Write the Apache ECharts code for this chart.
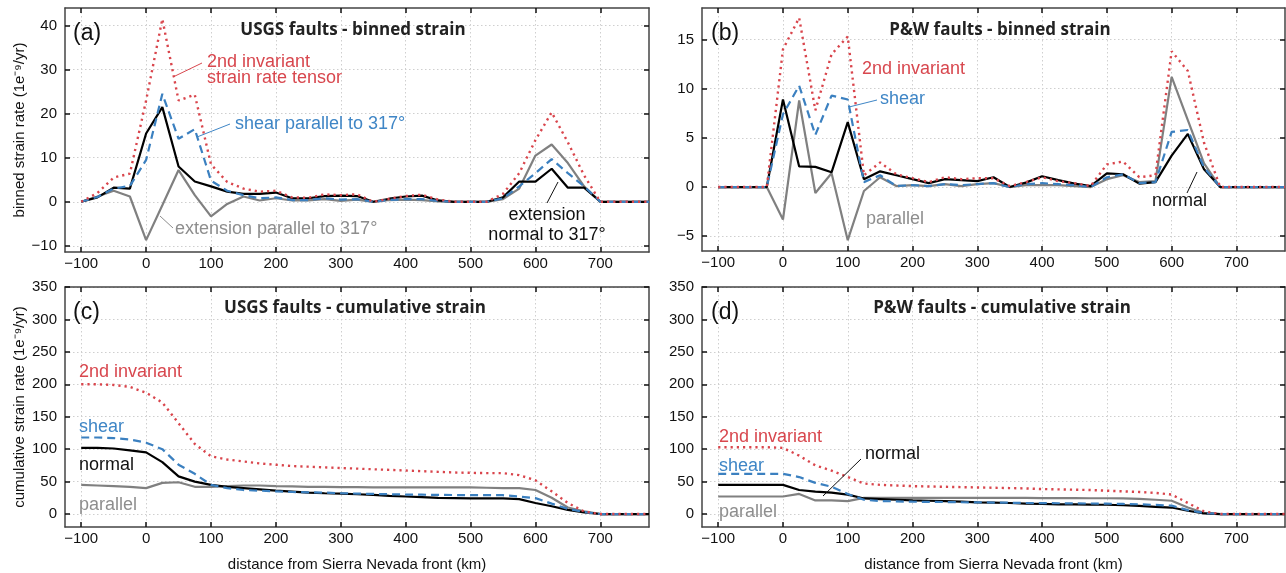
<!DOCTYPE html>
<html><head><meta charset="utf-8">
<script src="https://cdn.jsdelivr.net/npm/echarts@6/dist/echarts.min.js"></script>
<style>html,body{margin:0;padding:0;background:#fff}#c{width:1286px;height:573px}</style>
</head><body><div id="c"></div>
<script>
// ---------- data ----------
const dist = [-100,-75,-50,-25,0,25,50,75,100,125,150,175,200,225,250,275,300,325,350,375,400,425,450,475,500,525,550,575,600,625,650,675,700,725,750,775];

// (a) USGS binned
const aNormal   = [0,1,3.2,3,15.5,21.5,8,4.6,3.5,2.3,1.8,1.8,2.1,0.8,0.8,1.3,1.4,1.3,0,0.7,1.2,1.4,0.3,0,0,0,1,4.6,4.6,7.5,3.2,3.2,0,0,0,0];
const aParallel = [0,1.2,2.5,1.2,-8.7,-0.8,7.2,1.5,-3.3,-0.5,1.2,0.3,0.8,0.3,0.3,0.6,0.2,0.5,0,0.4,0.5,0.4,0.1,0,0,0,0.6,3,10.5,13,8.8,3.5,0,0,0,0];
const aShear    = [0,1.1,3,3.6,9.5,24.5,14.3,16.5,4.8,2.5,1.5,0.8,1.0,0.4,0.4,0.8,0.5,0.6,0,0.4,0.6,0.6,0.2,0,0,0,0.8,3.5,6.5,9.7,6.5,3.5,0,0,0,0];
const aInv      = [0,2,5.5,6.4,23,41.5,23,24.3,8.5,4.5,3,2.3,2.5,1,0.9,1.7,1.5,1.7,0,0.7,1.3,1.6,0.5,0,0,0,1.8,6.5,14,20.3,13.5,6,0,0,0,0];

// (b) P&W binned
const bNormal   = [0,0,0,0,8.9,2.1,2.05,1.5,6.6,0.8,1.6,1.2,0.8,0.4,0.8,0.7,0.6,1.0,0,0.45,1.1,0.7,0.35,0.1,1.4,1.3,0.35,0.5,3.2,5.4,1.8,0,0,0,0,0];
const bParallel = [0,0,0,0,-3.3,8.8,-0.6,1.4,-5.4,-0.4,1.0,0.1,0.2,0.1,0.3,0.1,0.3,0.4,0,0.2,0.2,0.2,0.1,0,0.8,1.2,0.5,0.6,11.2,6.8,2.4,0,0,0,0,0];
const bShear    = [0,0,0,0,7.4,10.3,5.3,9.3,8.9,0.5,1.2,0.1,0.2,0.1,0.3,0.2,0.3,0.4,0,0.3,0.4,0.3,0.2,0,1.0,1.3,0.4,0.5,5.6,5.8,2.0,0,0,0,0,0];
const bInv      = [0,0,0,0,14,17.2,7.8,13.5,15.3,1.2,2.5,1.3,0.9,0.5,1.0,0.8,0.9,0.9,0.1,0.5,1.0,0.6,0.4,0.1,2.3,2.6,1.0,1.2,13.8,11.8,4.5,0,0,0,0,0];

// (c) USGS cumulative
const cInv      = [200,200,199,196,187,172,140,108,89,84,81,78,76,74,73,72,71,70,69,68,67,66,65,64,63.5,63,63,60,52,35,17,4,0,0,0,0];
const cShear    = [118,118,117,115,110,100,76,62,45,40,37,36,35,34,33.5,33,32,31.5,31,30.5,30,29.8,29.5,29.3,29,29,29,27,24.5,16,8,3,0,0,0,0];
const cNormal   = [102,102,101,98,95,80,58,50,45,42,40,38,36,34.5,33,32,31.5,30.5,29.5,28,27,26,25,24.5,24,24,24,23,17,12,6.5,2.5,0,0,0,0];
const cParallel = [45,44,43,42,40,48,49,42,42,43,44,44,43,42.5,42,42,41.5,41.5,41,41,41,41,41,41,41,40.5,40,40,37,25,10,4,0,0,0,0];

// (d) P&W cumulative
const dInv      = [103,103,103,103,102,90,75,67,57,47,45,44,43,42.5,42,41.5,41,40.5,40,39.5,38.5,38,37.5,37,36,35,34,32.5,30,17,4,0,0,0,0,0];
const dShear    = [62,62,62,62,62,57,48,42,31,22,20,19.5,19,18.8,18.5,18.2,18,17.7,17.4,17,16.8,16.6,16.4,16.2,16,15.5,15,14,13,6,1.5,0,0,0,0,0];
const dNormal   = [45,45,45,45,45,37,34.5,33,30,24,23,22,21,20.5,20,19,18,17.5,17,16,15.5,15,14.8,14.5,14.3,13.5,12.5,11,10,5,1,0,0,0,0,0];
const dParallel = [27,27,27,27,27,31,21,21,20,25,25,25,25,25,25,25,25,25,25,24.8,24.5,24.5,24.5,24.3,24.3,24,23.5,22,20.5,10,2,0,0,0,0,0];

const xTicks = [-100,0,100,200,300,400,500,600,700];
const yTicksA = [-10,0,10,20,30,40];
const yTicksB = [-5,0,5,10,15];
const yTicksC = [0,50,100,150,200,250,300,350];

// ---------- styling ----------
const FONT = "'Liberation Sans', Arial, Helvetica, sans-serif";
const RED = '#d9454c', BLUE = '#3b80c0', GRAY = '#808080', BLACK = '#000000';
const RED_T = '#d8474e', BLUE_T = '#3f86c6', GRAY_T = '#8e8e8e';
const FRAME = '#444';

const grids = [
  {left: 65,  top: 8,   width: 584, height: 244},
  {left: 702, top: 8,   width: 583, height: 243},
  {left: 65,  top: 287, width: 584, height: 244},
  {left: 702, top: 287, width: 583, height: 244}
];
const yRanges = [[-11.4, 44], [-6.5, 18.2], [-20, 350], [-20, 350]];
const yTicksList = [yTicksA, yTicksB, yTicksC, yTicksC];
const yNames = ['binned strain rate (1e⁻⁹/yr)', '', 'cumulative strain rate (1e⁻⁹/yr)', ''];
const xNames = ['', '', 'distance from Sierra Nevada front (km)', 'distance from Sierra Nevada front (km)'];

const fmt = v => String(v).replace('-', '\u2212');

const xAxis = [], yAxis = [], series = [];
grids.forEach((g, i) => {
  // bottom x
  xAxis.push({
    type: 'value', gridIndex: i, min: -125, max: 775, position: 'bottom',
    name: xNames[i], nameLocation: 'middle', nameGap: 30,
    nameTextStyle: {fontFamily: FONT, fontSize: 15, color: '#111'},
    axisLine: {show: true, onZero: false, lineStyle: {color: FRAME, width: 1.5}},
    axisTick: {show: true, inside: true, length: 5, customValues: xTicks, lineStyle: {color: '#111', width: 1.5}},
    axisLabel: {show: true, margin: 4, customValues: xTicks, formatter: fmt, fontFamily: FONT, fontSize: 15, color: '#111'},
    splitLine: {show: true, lineStyle: {color: '#cfcfcf', type: [1.5, 2.5], width: 1}}
  });
  // top x (mirror)
  xAxis.push({
    type: 'value', gridIndex: i, min: -125, max: 775, position: 'top',
    axisLine: {show: true, onZero: false, lineStyle: {color: FRAME, width: 1.5}},
    axisTick: {show: true, inside: true, length: 5, customValues: xTicks, lineStyle: {color: '#111', width: 1.5}},
    axisLabel: {show: false}, splitLine: {show: false}
  });
  yAxis.push({
    type: 'value', gridIndex: i, min: yRanges[i][0], max: yRanges[i][1], position: 'left',
    name: yNames[i], nameLocation: 'middle', nameGap: 38, nameRotate: 90,
    nameTextStyle: {fontFamily: FONT, fontSize: 15, color: '#111'},
    axisLine: {show: true, onZero: false, lineStyle: {color: FRAME, width: 1.5}},
    axisTick: {show: true, inside: true, length: 5, customValues: yTicksList[i], lineStyle: {color: '#111', width: 1.5}},
    axisLabel: {show: true, margin: 8, customValues: yTicksList[i], formatter: fmt, fontFamily: FONT, fontSize: 15, color: '#111'},
    splitLine: {show: true, lineStyle: {color: '#cfcfcf', type: [1.5, 2.5], width: 1}}
  });
  yAxis.push({
    type: 'value', gridIndex: i, min: yRanges[i][0], max: yRanges[i][1], position: 'right',
    axisLine: {show: true, onZero: false, lineStyle: {color: FRAME, width: 1.5}},
    axisTick: {show: true, inside: true, length: 5, customValues: yTicksList[i], lineStyle: {color: '#111', width: 1.5}},
    axisLabel: {show: false}, splitLine: {show: false}
  });
});

const panelData = [
  [aParallel, aNormal, aShear, aInv],
  [bParallel, bNormal, bShear, bInv],
  [cParallel, cNormal, cShear, cInv],
  [dParallel, dNormal, dShear, dInv]
];
const styles = [
  {color: GRAY,  width: 2.2, type: 'solid'},
  {color: BLACK, width: 2.2, type: 'solid'},
  {color: BLUE,  width: 2.2, type: [8, 5]},
  {color: RED,   width: 2.4, type: [2.2, 4]}
];
panelData.forEach((arrs, i) => {
  arrs.forEach((vals, k) => {
    series.push({
      type: 'line', xAxisIndex: i * 2, yAxisIndex: i * 2,
      data: dist.map((d, j) => [d, vals[j]]),
      showSymbol: false, symbol: 'none', silent: true, animation: false,
      lineStyle: styles[k], z: 2 + k
    });
  });
});

// ---------- annotations ----------
function txt(x, y, s, color, size, weight, align) {
  return {type: 'text', x: x, y: y, silent: true, z: 100,
    style: {text: s, fill: color, font: (weight || 'normal') + ' ' + size + 'px ' + (weight === 'bold' ? "'Open Sans', sans-serif" : FONT),
      textAlign: align || 'left', textVerticalAlign: 'middle', align: align || 'left', verticalAlign: 'middle'}};
}
function seg(x1, y1, x2, y2, color) {
  return {type: 'line', silent: true, z: 100, shape: {x1: x1, y1: y1, x2: x2, y2: y2}, style: {stroke: color, lineWidth: 1}};
}
const graphic = [
  txt(73, 34, '(a)', '#111', 23),
  txt(353, 30, 'USGS faults - binned strain', '#222', 17, 'bold', 'center'),
  txt(207, 62, '2nd invariant', RED_T, 18),
  txt(207, 78, 'strain rate tensor', RED_T, 18),
  seg(173, 77, 202, 63, RED_T),
  txt(235, 124, 'shear parallel to 317°', BLUE_T, 18),
  seg(197, 137, 230, 124, BLUE_T),
  txt(175, 229, 'extension parallel to 317°', GRAY_T, 18),
  seg(160, 216, 173, 228, GRAY_T),
  txt(547, 215, 'extension', '#111', 18, null, 'center'),
  txt(547, 235, 'normal to 317°', '#111', 18, null, 'center'),
  seg(547, 203, 558, 182, '#111'),

  txt(711, 34, '(b)', '#111', 23),
  txt(1000, 30, 'P&W faults - binned strain', '#222', 17, 'bold', 'center'),
  txt(862, 69, '2nd invariant', RED_T, 18),
  txt(880, 99, 'shear', BLUE_T, 18),
  seg(849, 107, 877, 100, BLUE_T),
  txt(866, 219, 'parallel', GRAY_T, 18),
  txt(1152, 201, 'normal', '#111', 18),
  seg(1197, 172, 1187, 193, '#111'),

  txt(73, 313, '(c)', '#111', 23),
  txt(355, 308, 'USGS faults - cumulative strain', '#222', 17, 'bold', 'center'),
  txt(79, 372, '2nd invariant', RED_T, 18),
  txt(79, 427, 'shear', BLUE_T, 18),
  txt(79, 465, 'normal', '#111', 18),
  txt(79, 505, 'parallel', GRAY_T, 18),

  txt(711, 313, '(d)', '#111', 23),
  txt(1002, 308, 'P&W faults - cumulative strain', '#222', 17, 'bold', 'center'),
  txt(719, 437, '2nd invariant', RED_T, 18),
  txt(719, 466, 'shear', BLUE_T, 18),
  txt(865, 454, 'normal', '#111', 18),
  seg(823, 496, 861, 459, '#111'),
  txt(719, 512, 'parallel', GRAY_T, 18)
];

const chart = echarts.init(document.getElementById('c'), null, {renderer: 'canvas'});
chart.setOption({
  animation: false,
  backgroundColor: '#fff',
  grid: grids.map(g => Object.assign({containLabel: false}, g)),
  xAxis: xAxis, yAxis: yAxis, series: series, graphic: graphic
});
</script></body></html>
